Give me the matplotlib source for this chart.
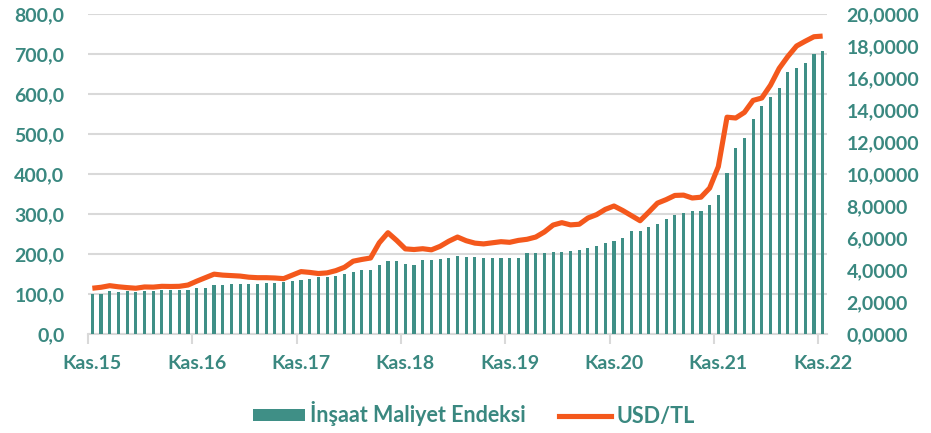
import matplotlib
matplotlib.use("Agg")
import matplotlib.pyplot as plt
from matplotlib.ticker import FuncFormatter, FixedLocator
from matplotlib.lines import Line2D
from matplotlib.patches import Patch

plt.rcParams['font.family'] = ['Lato', 'DejaVu Sans']

# Monthly data Nov 2015 .. Nov 2022
tick_labels = ["Kas.15", "Kas.16", "Kas.17", "Kas.18", "Kas.19", "Kas.20", "Kas.21", "Kas.22"]

insaat_maliyet = [
    100.9, 101.0, 107, 106, 107, 106, 108, 108, 109, 110, 110, 111,
    114, 116, 122, 123.5, 125, 126, 126, 126, 127.5, 128, 129, 132.5,
    136, 137.5, 142.5, 142.5, 146, 151, 156, 159, 161, 172, 182, 182,
    176, 172.5, 184, 186, 187.5, 191, 194, 192.5, 192, 191, 190, 189,
    189, 191, 202, 202, 202, 204, 206, 208, 210, 214, 220, 227,
    232.5, 239, 257.5, 257.5, 267, 275, 287.5, 297, 303, 307.5, 308, 322,
    347.5, 402.5, 464, 491, 537.5, 570, 593, 614, 654, 666, 677, 701,
    708,
]

usd_tl = [
    2.86, 2.92, 3.02, 2.95, 2.90, 2.86, 2.94, 2.93, 2.98, 2.97, 2.98, 3.06,
    3.30, 3.52, 3.74, 3.68, 3.65, 3.62, 3.55, 3.52, 3.52, 3.50, 3.46, 3.68,
    3.90, 3.85, 3.78, 3.82, 3.96, 4.17, 4.55, 4.66, 4.75, 5.70, 6.33, 5.85,
    5.32, 5.28, 5.33, 5.26, 5.48, 5.80, 6.06, 5.83, 5.68, 5.63, 5.70, 5.77,
    5.73, 5.85, 5.92, 6.06, 6.38, 6.81, 6.96, 6.82, 6.86, 7.25, 7.46, 7.79,
    8.00, 7.72, 7.40, 7.08, 7.62, 8.18, 8.40, 8.66, 8.68, 8.50, 8.55, 9.12,
    10.46, 13.55, 13.50, 13.85, 14.60, 14.75, 15.55, 16.60, 17.35, 18.00, 18.30, 18.58,
    18.62,
]

bar_color = "#3f8f86"
line_color = "#f4581c"
text_color = "#3a8880"
grid_color = "#d9d9d9"

n = len(insaat_maliyet)
x = list(range(n))

fig = plt.figure(figsize=(9.31, 4.33), dpi=100)
ax = fig.add_axes([88 / 931, (433 - 334) / 433, 739 / 931, 320 / 433])
ax2 = ax.twinx()

ax.bar(x, insaat_maliyet, width=0.36, color=bar_color, zorder=3)
ax2.plot(x, usd_tl, color=line_color, lw=3.7, solid_joinstyle='round',
         solid_capstyle='butt', zorder=4)

ax.set_xlim(-0.5, n - 0.5)
ax.set_ylim(0, 800)
ax2.set_ylim(0, 20)

ax.set_yticks(range(0, 801, 100))
ax2.set_yticks(range(0, 21, 2))
ax.yaxis.set_major_formatter(FuncFormatter(lambda v, p: f"{v:.1f}".replace(".", ",")))
ax2.yaxis.set_major_formatter(FuncFormatter(lambda v, p: f"{v:.4f}".replace(".", ",")))

ax.grid(axis='y', color=grid_color, lw=1.5, zorder=0)
ax.set_axisbelow(True)

label_pos = list(range(0, n, 12))
ax.set_xticks(label_pos)
ax.set_xticklabels(tick_labels)
ax.xaxis.set_minor_locator(FixedLocator([p - 0.5 for p in label_pos]))
ax.tick_params(axis='x', which='major', length=0, pad=15, labelsize=14,
               labelcolor=text_color)
ax.tick_params(axis='x', which='minor', length=7, width=1.5, color=grid_color)
for lab in ax.get_xticklabels():
    lab.set_fontweight('bold')

ax.tick_params(axis='y', length=0, pad=17, labelsize=14, labelcolor=text_color)
ax2.tick_params(axis='y', length=0, pad=14, labelsize=14, labelcolor=text_color)
for lab in ax.get_yticklabels() + ax2.get_yticklabels():
    lab.set_fontweight('bold')

for a in (ax, ax2):
    for s in ('top', 'left', 'right', 'bottom'):
        a.spines[s].set_visible(False)
ax.spines['bottom'].set_visible(True)
ax.spines['bottom'].set_color(grid_color)
ax.spines['bottom'].set_linewidth(1.5)

handles = [Patch(facecolor=bar_color, edgecolor='none', label="İnşaat Maliyet Endeksi"),
           Line2D([], [], color=line_color, lw=3.7, label="USD/TL")]
leg = fig.legend(handles=handles, loc='center', bbox_to_anchor=(474 / 931, 1 - 414 / 433),
                 ncol=2, frameon=False, handlelength=2.4, handleheight=0.5,
                 handletextpad=0.25, columnspacing=1.55,
                 prop={'size': 15.5, 'weight': 'bold'})
for t in leg.get_texts():
    t.set_color(text_color)

fig.savefig("out.png", dpi=100)
